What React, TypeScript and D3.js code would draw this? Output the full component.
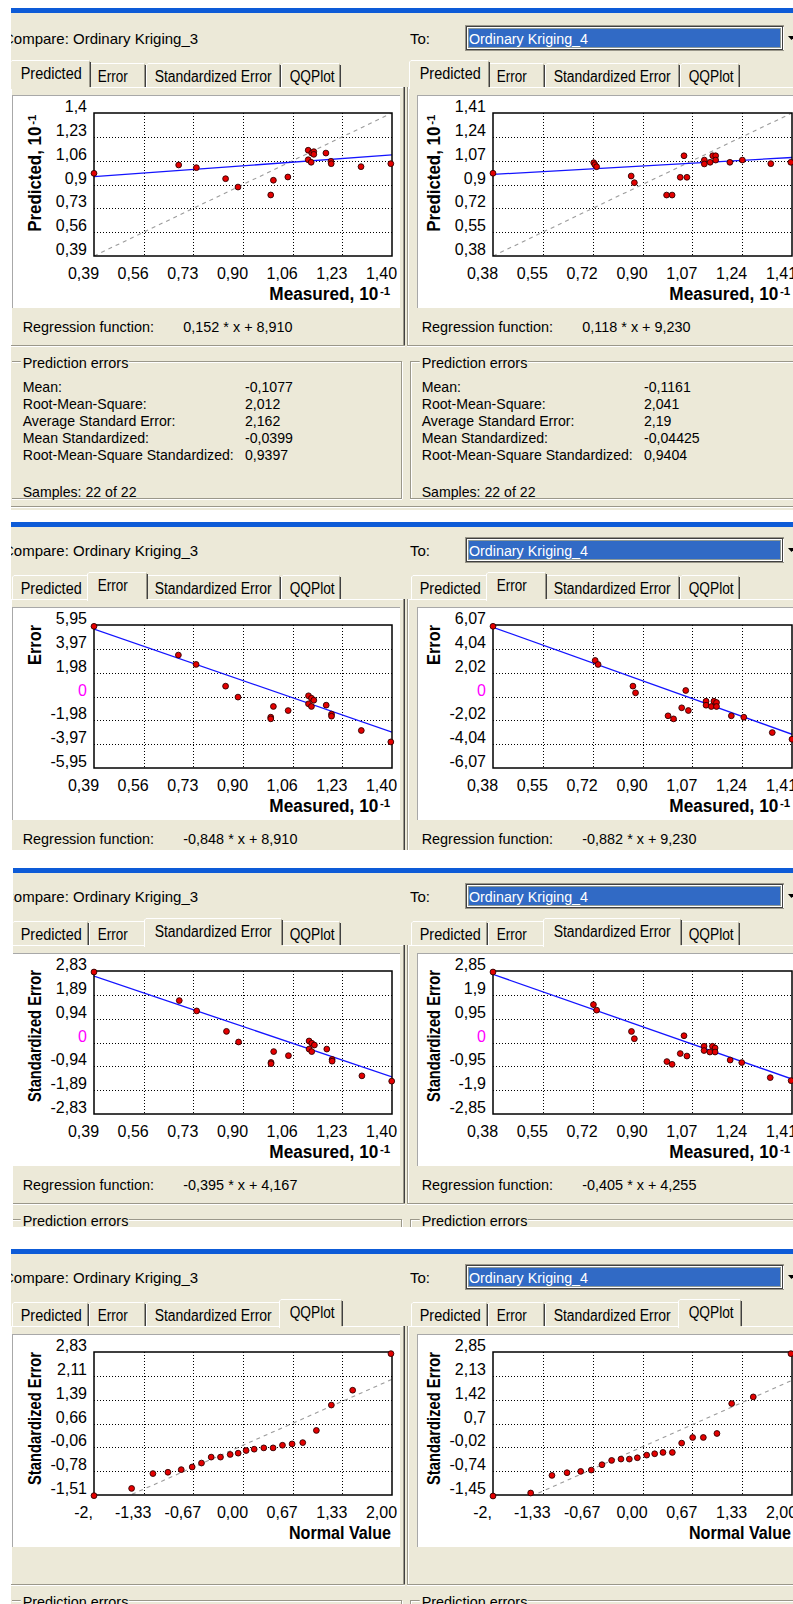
import React from "react";
import * as d3 from "d3";

// ------------------------------------------------------------------ data
const tabLabels = ["Predicted", "Error", "Standardized Error", "QQPlot"];
const compareText = "Compare:  Ordinary Kriging_3";
const toLabel = "To:";
const toModel = "Ordinary Kriging_4";

const measured3Ticks = ["0,39", "0,56", "0,73", "0,90", "1,06", "1,23", "1,40"];
const measured4Ticks = ["0,38", "0,55", "0,72", "0,90", "1,07", "1,24", "1,41"];
const normalTicks = ["-2,", "-1,33", "-0,67", "0,00", "0,67", "1,33", "2,00"];

const predicted3Ticks = ["1,4", "1,23", "1,06", "0,9", "0,73", "0,56", "0,39"];
const predicted4Ticks = ["1,41", "1,24", "1,07", "0,9", "0,72", "0,55", "0,38"];
const error3Ticks = ["5,95", "3,97", "1,98", "0", "-1,98", "-3,97", "-5,95"];
const error4Ticks = ["6,07", "4,04", "2,02", "0", "-2,02", "-4,04", "-6,07"];
const stdError3Ticks = ["2,83", "1,89", "0,94", "0", "-0,94", "-1,89", "-2,83"];
const stdError4Ticks = ["2,85", "1,9", "0,95", "0", "-0,95", "-1,9", "-2,85"];
const qq3Ticks = ["2,83", "2,11", "1,39", "0,66", "-0,06", "-0,78", "-1,51"];
const qq4Ticks = ["2,85", "2,13", "1,42", "0,7", "-0,02", "-0,74", "-1,45"];

// Predicted tab (values in units of 10)
const pred3X = [0.39, 0.677, 0.737, 0.836, 0.878, 0.989, 0.998, 1.047, 1.116, 1.116, 1.126, 1.128, 1.135, 1.135, 1.176, 1.193, 1.194, 1.295, 1.396];
const pred3Y = [0.974, 1.033, 1.014, 0.936, 0.877, 0.821, 0.925, 0.948, 1.137, 1.07, 1.052, 1.117, 1.127, 1.108, 1.117, 1.059, 1.042, 1.021, 1.042];
const pred4X = [0.38, 0.727, 0.731, 0.737, 0.856, 0.867, 0.978, 0.997, 1.025, 1.038, 1.048, 1.108, 1.108, 1.128, 1.137, 1.147, 1.147, 1.196, 1.239, 1.337, 1.406];
const pred4Y = [0.976, 1.052, 1.038, 1.023, 0.956, 0.908, 0.819, 0.819, 0.947, 1.102, 0.947, 1.071, 1.043, 1.055, 1.102, 1.102, 1.071, 1.055, 1.071, 1.045, 1.055];

// Error tab
const err3X = [0.39, 0.676, 0.736, 0.836, 0.878, 0.989, 0.989, 0.998, 1.048, 1.117, 1.117, 1.127, 1.127, 1.135, 1.177, 1.195, 1.195, 1.296, 1.396];
const err3Y = [5.84, 3.45, 2.67, 0.86, -0.05, -1.72, -1.86, -0.83, -1.17, 0.06, -0.61, -0.14, -0.83, -0.31, -0.72, -1.47, -1.64, -2.83, -3.78];
const err4X = [0.38, 0.732, 0.742, 0.862, 0.871, 0.983, 1.002, 1.03, 1.044, 1.053, 1.114, 1.114, 1.132, 1.141, 1.15, 1.15, 1.201, 1.244, 1.342, 1.41];
const err4Y = [5.96, 3.06, 2.72, 0.88, 0.31, -1.64, -1.9, -0.96, 0.51, -1.19, -0.4, -0.74, -0.85, -0.4, -0.51, -0.85, -1.64, -1.76, -3.06, -3.63];

// Standardized Error tab
const std3X = [0.39, 0.679, 0.738, 0.839, 0.88, 0.99, 0.99, 0.999, 1.049, 1.119, 1.119, 1.128, 1.128, 1.137, 1.179, 1.197, 1.197, 1.298, 1.399];
const std3Y = [2.79, 1.66, 1.25, 0.44, 0.02, -0.79, -0.84, -0.36, -0.52, 0.06, -0.26, -0.03, -0.36, -0.1, -0.26, -0.67, -0.74, -1.32, -1.53];
const std4X = [0.38, 0.726, 0.737, 0.857, 0.867, 0.979, 0.997, 1.025, 1.038, 1.048, 1.107, 1.107, 1.127, 1.136, 1.145, 1.145, 1.197, 1.237, 1.335, 1.407];
const std4Y = [2.81, 1.51, 1.29, 0.44, 0.15, -0.76, -0.87, -0.44, 0.27, -0.54, -0.15, -0.32, -0.38, -0.15, -0.22, -0.38, -0.7, -0.8, -1.4, -1.52];

// QQPlot tab
const qq3X = [-2.0, -1.495, -1.209, -1.008, -0.829, -0.682, -0.557, -0.427, -0.302, -0.172, -0.065, 0.042, 0.15, 0.279, 0.404, 0.53, 0.659, 0.802, 0.985, 1.186, 1.472, 1.986];
const qq3Y = [-1.53, -1.31, -0.86, -0.82, -0.74, -0.66, -0.54, -0.36, -0.36, -0.28, -0.24, -0.16, -0.12, -0.08, -0.08, 0.0, 0.04, 0.08, 0.45, 1.22, 1.67, 2.78];
const qq4X = [-2.0, -1.496, -1.211, -1.01, -0.827, -0.685, -0.542, -0.413, -0.288, -0.176, -0.069, 0.056, 0.163, 0.274, 0.399, 0.524, 0.671, 0.814, 0.996, 1.193, 1.482, 1.986];
const qq4Y = [-1.48, -1.39, -0.86, -0.78, -0.74, -0.7, -0.54, -0.41, -0.37, -0.37, -0.33, -0.25, -0.21, -0.17, -0.17, 0.11, 0.28, 0.28, 0.4, 1.3, 1.5, 2.8];
const qqReference = [-1.49, 2.0];

// regression [slope, intercept]
const pred3Reg = [0.152, 8.91];
const pred4Reg = [0.118, 9.23];
const err3Reg = [-0.848, 8.91];
const err4Reg = [-0.882, 9.23];
const std3Reg = [-0.395, 4.167];
const std4Reg = [-0.405, 4.255];

const statLabels = ["Mean:", "Root-Mean-Square:", "Average Standard Error:", "Mean Standardized:", "Root-Mean-Square Standardized:"];
const stats3 = ["-0,1077", "2,012", "2,162", "-0,0399", "0,9397"];
const stats4 = ["-0,1161", "2,041", "2,19", "-0,04425", "0,9404"];
const sampleCounts = [22, 22];

// ------------------------------------------------------------------ layout
const FONT = "'Liberation Sans', Arial, Helvetica, sans-serif";
const BEIGE = "#ECE9D8";
const SHADOW = "#9a978a";
const DARK = "#404040";
const BAR_TOP = [8, 522, 868, 1249];
const ORIGIN = [10, 522, 868, 1249];
const BLOCK_END = [510, 850, 1227, 1604];
const BLOCK_LEFT = [11, 11, 13, 11];
const TAB_EDGES = [12, 89, 146, 281, 341];
const TAB_W = [61, 30, 117, 45];

const num = (s: string) => parseFloat(s.replace(",", "."));
const fmt = (v: number) => v.toFixed(3).replace(".", ",");

function Txt(props: any) {
  const { x, y, s = 14, w, sx, a = "start", b = false, fill = "#000", children } = props;
  const extra: any = w ? { textLength: w, lengthAdjust: "spacingAndGlyphs" } : {};
  if (sx) {
    return (
      <text transform={`translate(${x},${y}) scale(${sx},1)`} x={0} y={0} fontSize={s} fontFamily={FONT} fontWeight={b ? "bold" : "normal"} textAnchor={a} fill={fill}>
        {children}
      </text>
    );
  }
  return (
    <text x={x} y={y} fontSize={s} fontFamily={FONT} fontWeight={b ? "bold" : "normal"} textAnchor={a} fill={fill} {...extra}>
      {children}
    </text>
  );
}

type Spec = {
  xTicks: string[]; yTicks: string[]; xs: number[]; ys: number[];
  reg: number[] | null; yMult: number; diag: number[] | null;
  xTitle: string; xTitleW: number; xSup: boolean;
  yTitle: string; yTitleW: number; ySup: boolean; yEnd: number;
};

function Plot({ s, left, right, top, cid }: { s: Spec; left: number; right: number; top: number; cid: string }) {
  const bottom = top + 143;
  const xDom = [num(s.xTicks[0]), num(s.xTicks[s.xTicks.length - 1])];
  const yDom = [num(s.yTicks[s.yTicks.length - 1]), num(s.yTicks[0])];
  const x = d3.scaleLinear().domain(xDom).range([left, right]);
  const y = d3.scaleLinear().domain(yDom).range([bottom, top]);
  const xp = d3.scalePoint<string>().domain(s.xTicks).range([left, right]);
  const yp = d3.scalePoint<string>().domain(s.yTicks).range([top, bottom]);
  const line = d3.line<number[]>().x((d) => x(d[0])).y((d) => y(d[1]));
  const reg = s.reg;
  const regPath = reg ? line(xDom.map((v) => [v, (reg[0] * v * 10 + reg[1]) / s.yMult])) : null;
  const diagPath = s.diag ? line(s.diag.map((v) => [v, v])) : null;
  const px = (v: number) => Math.round(v) + 0.5;
  const yl = left - 53;
  return (
    <g>
      <clipPath id={cid}>
        <rect x={left} y={top} width={right - left} height={bottom - top} />
      </clipPath>
      {s.xTicks.slice(1, -1).map((t) => (
        <line key={"gx" + t} x1={px(xp(t)!)} x2={px(xp(t)!)} y1={top} y2={bottom} stroke="#000" strokeDasharray="1,2" />
      ))}
      {s.yTicks.slice(1, -1).map((t) => (
        <line key={"gy" + t} x1={left} x2={right} y1={px(yp(t)!)} y2={px(yp(t)!)} stroke="#000" strokeDasharray="1,2" />
      ))}
      <g clipPath={`url(#${cid})`}>
        {diagPath && <path d={diagPath} stroke="#9c9c9c" strokeWidth={1.1} strokeDasharray="4,4" fill="none" />}
        {regPath && <path d={regPath} stroke="#1414ff" strokeWidth={1.3} fill="none" />}
      </g>
      <rect x={left} y={top} width={right - left} height={bottom - top} fill="none" stroke="#000" strokeWidth={1.5} />
      {s.xs.map((v, i) => (
        <circle key={"p" + i} cx={x(v)} cy={y(s.ys[i])} r={2.9} fill="#e40000" stroke="#300000" strokeWidth={0.9} />
      ))}
      {s.yTicks.map((t) => (
        <Txt key={"yl" + t} x={left - 7} y={yp(t)! - 1} s={16} a="end" fill={t === "0" ? "#ff00ff" : "#000"}>
          {t}
        </Txt>
      ))}
      {s.xTicks.map((t) => (
        <Txt key={"xl" + t} x={xp(t)! - 10.5} y={bottom + 22.5} s={16} a="middle">
          {t}
        </Txt>
      ))}
      {s.xSup ? (
        <g>
          <Txt x={right - 122.7} y={bottom + 44} s={17.5} b w={109}>{s.xTitle}</Txt>
          <Txt x={right - 12} y={bottom + 39} s={11.5} b>-1</Txt>
        </g>
      ) : (
        <Txt x={right - 1 - s.xTitleW} y={bottom + 44} s={17.5} b w={s.xTitleW}>{s.xTitle}</Txt>
      )}
      <g transform={`translate(${yl},${top}) rotate(-90)`}>
        <Txt x={s.yEnd - s.yTitleW} y={0} s={17.5} b w={s.yTitleW}>{s.yTitle}</Txt>
        {s.ySup && <Txt x={-11.8} y={-5} s={11.5} b>-1</Txt>}
      </g>
    </g>
  );
}

function Side({ bi, side, spec, active }: { bi: number; side: number; spec: Spec; active: number }) {
  const L = ORIGIN[bi];
  const end = BLOCK_END[bi];
  const dx = side === 0 ? 0 : 399;
  const plotL = side === 0 ? 94 : 493;
  const plotR = side === 0 ? 392 : 792;
  const pageL = side === 0 ? 11 : 407;
  const pageR = side === 0 ? 405 : 830;
  const panelL = side === 0 ? 12 : 417;
  const panelR = side === 0 ? 400 : 830;
  const edges = TAB_EDGES.map((e) => e + dx);
  const tabTop = L + 77;
  const pageBot = L + 336;

  const tab = (i: number) => {
    const isA = i === active;
    let x0 = edges[i];
    let x1 = edges[i + 1];
    const t = isA ? L + 50 : L + 53;
    if (isA) {
      x0 -= 2;
      x1 += 2;
    }
    const bot = isA ? tabTop + 2 : tabTop;
    return (
      <g key={"tab" + i}>
        <path d={`M${x0},${bot}V${t + 2}L${x0 + 2},${t}H${x1 - 2}L${x1},${t + 2}V${bot}Z`} fill={BEIGE} />
        <path d={`M${x0 + 0.5},${bot}V${t + 2}L${x0 + 2},${t + 0.5}H${x1 - 2}`} stroke="#fff" fill="none" />
        <path d={`M${x1 - 1.5},${t + 1.5}V${tabTop}`} stroke={SHADOW} fill="none" />
        <path d={`M${x1 - 0.5},${t + 2}V${tabTop}`} stroke={DARK} fill="none" />
        <Txt x={edges[i] + 8.7} y={isA ? L + 69 : L + 72} s={16} w={TAB_W[i]}>
          {tabLabels[i]}
        </Txt>
      </g>
    );
  };

  const gx0 = side === 0 ? 12 : 410;
  const gx1 = side === 0 ? 402 : 830;
  const gTop = L + 352;
  const gBot = L + 489;
  const titleX = 22.7 + dx;
  const stats = side === 0 ? stats3 : stats4;
  const showGroup = gTop < end;
  const statY = (i: number) => L + 381.7 + i * 17.1;
  const SX = 0.93;

  return (
    <g>
      {/* header */}
      {side === 0 ? (
        <Txt x={3} y={L + 34.3} s={15}>{compareText}</Txt>
      ) : (
        <g>
          <Txt x={410} y={L + 34.3} s={15}>{toLabel}</Txt>
          <rect x={465.5} y={L + 15.5} width={318} height={25} fill="#fff" stroke={SHADOW} />
          <rect x={466.5} y={L + 16.5} width={316} height={23} fill="#fff" stroke={DARK} />
          <rect x={468} y={L + 18} width={313} height={20} fill="#316AC5" />
          <rect x={468.5} y={L + 18.5} width={312} height={19} fill="none" stroke="#e8c86a" strokeDasharray="1,1" />
          <Txt x={469} y={L + 33.5} s={15.5} w={119} fill="#fff">{toModel}</Txt>
          <rect x={783} y={L + 17} width={20} height={23} fill={BEIGE} />
          <line x1={783.5} x2={783.5} y1={L + 17} y2={L + 40} stroke="#fff" />
          <path d={`M788,${L + 26}h7l-3.5,4z`} fill="#000" />
        </g>
      )}

      {/* tab page */}
      <rect x={pageL} y={tabTop} width={pageR - pageL} height={pageBot - tabTop} fill={BEIGE} />
      <line x1={pageL} x2={pageR} y1={tabTop + 0.5} y2={tabTop + 0.5} stroke="#fff" />
      {side === 1 && <line x1={pageL + 0.5} x2={pageL + 0.5} y1={tabTop} y2={pageBot} stroke={SHADOW} />}
      <line x1={pageL + (side === 1 ? 1.5 : 0.5)} x2={pageL + (side === 1 ? 1.5 : 0.5)} y1={tabTop} y2={pageBot} stroke="#fff" />
      {side === 0 && (
        <g>
          <line x1={pageR - 1.5} x2={pageR - 1.5} y1={tabTop} y2={pageBot} stroke={SHADOW} />
          <line x1={pageR - 0.5} x2={pageR - 0.5} y1={tabTop} y2={pageBot} stroke={DARK} />
        </g>
      )}
      <line x1={pageL} x2={pageR} y1={pageBot - 0.5} y2={pageBot - 0.5} stroke={SHADOW} />
      <line x1={pageL} x2={pageR} y1={pageBot + 0.5} y2={pageBot + 0.5} stroke="#fff" />

      {[0, 1, 2, 3].filter((i) => i !== active).map(tab)}
      {tab(active)}

      {/* chart panel */}
      <rect x={panelL} y={L + 85} width={panelR - panelL} height={213} fill="#fff" />
      <line x1={panelL} x2={panelR} y1={L + 85.5} y2={L + 85.5} stroke="#a8a8a8" />
      <line x1={panelL + 0.5} x2={panelL + 0.5} y1={L + 85} y2={L + 298} stroke="#a8a8a8" />

      <Plot s={spec} left={plotL} right={plotR} top={L + 103} cid={`clip-${bi}-${side}`} />

      {spec.reg && (
        <g>
          <Txt x={22.7 + dx} y={L + 321.5} s={15.5} sx={SX}>Regression function:</Txt>
          <Txt x={183.3 + dx} y={L + 321.5} s={15.5} sx={SX}>{`${fmt(spec.reg[0])} * x + ${fmt(spec.reg[1])}`}</Txt>
        </g>
      )}

      {/* prediction errors group */}
      {showGroup && (
        <g>
          <line x1={gx0} x2={titleX - 2} y1={gTop - 0.5} y2={gTop - 0.5} stroke={SHADOW} />
          <line x1={gx0} x2={titleX - 2} y1={gTop + 0.5} y2={gTop + 0.5} stroke="#fff" />
          <line x1={titleX + 106} x2={gx1} y1={gTop - 0.5} y2={gTop - 0.5} stroke={SHADOW} />
          <line x1={titleX + 106} x2={gx1} y1={gTop + 0.5} y2={gTop + 0.5} stroke="#fff" />
          {side === 0 ? (
            <g>
              <line x1={gx1 - 0.5} x2={gx1 - 0.5} y1={gTop} y2={gBot} stroke={SHADOW} />
              <line x1={gx1 + 0.5} x2={gx1 + 0.5} y1={gTop} y2={gBot} stroke="#fff" />
            </g>
          ) : (
            <g>
              <line x1={gx0 + 0.5} x2={gx0 + 0.5} y1={gTop} y2={gBot} stroke={SHADOW} />
              <line x1={gx0 + 1.5} x2={gx0 + 1.5} y1={gTop} y2={gBot} stroke="#fff" />
            </g>
          )}
          <line x1={gx0} x2={gx1} y1={gBot - 0.5} y2={gBot - 0.5} stroke={SHADOW} />
          <line x1={gx0} x2={gx1} y1={gBot + 0.5} y2={gBot + 0.5} stroke="#fff" />
          <Txt x={titleX} y={L + 357.5} s={15.5} sx={SX}>Prediction errors</Txt>
        </g>
      )}
      {statLabels.map((lab, i) =>
        statY(i) - 12 < end ? (
          <g key={"st" + i}>
            <Txt x={22.7 + dx} y={statY(i)} s={15.2} sx={SX}>{lab}</Txt>
            <Txt x={245 + dx} y={statY(i)} s={15.2} sx={SX}>{stats[i]}</Txt>
          </g>
        ) : null
      )}
      {L + 487 - 12 < end && (
        <Txt x={22.7 + dx} y={L + 487} s={15.2} sx={SX}>{`Samples: ${sampleCounts[side]} of ${sampleCounts[side]}`}</Txt>
      )}
    </g>
  );
}

export default function App() {
  const measDiag3 = [num(measured3Ticks[0]), num(measured3Ticks[6])];
  const measDiag4 = [num(measured4Ticks[0]), num(measured4Ticks[6])];
  const base = { xTitle: "Measured, 10", xTitleW: 109, xSup: true };
  const specs: Spec[][] = [
    [
      { ...base, xTicks: measured3Ticks, yTicks: predicted3Ticks, xs: pred3X, ys: pred3Y, reg: pred3Reg, yMult: 10, diag: measDiag3, yTitle: "Predicted, 10", yTitleW: 105, ySup: true, yEnd: -13.7 },
      { ...base, xTicks: measured4Ticks, yTicks: predicted4Ticks, xs: pred4X, ys: pred4Y, reg: pred4Reg, yMult: 10, diag: measDiag4, yTitle: "Predicted, 10", yTitleW: 105, ySup: true, yEnd: -13.7 },
    ],
    [
      { ...base, xTicks: measured3Ticks, yTicks: error3Ticks, xs: err3X, ys: err3Y, reg: err3Reg, yMult: 1, diag: null, yTitle: "Error", yTitleW: 40, ySup: false, yEnd: 0 },
      { ...base, xTicks: measured4Ticks, yTicks: error4Ticks, xs: err4X, ys: err4Y, reg: err4Reg, yMult: 1, diag: null, yTitle: "Error", yTitleW: 40, ySup: false, yEnd: 0 },
    ],
    [
      { ...base, xTicks: measured3Ticks, yTicks: stdError3Ticks, xs: std3X, ys: std3Y, reg: std3Reg, yMult: 1, diag: null, yTitle: "Standardized Error", yTitleW: 132, ySup: false, yEnd: 1 },
      { ...base, xTicks: measured4Ticks, yTicks: stdError4Ticks, xs: std4X, ys: std4Y, reg: std4Reg, yMult: 1, diag: null, yTitle: "Standardized Error", yTitleW: 132, ySup: false, yEnd: 1 },
    ],
    [
      { xTitle: "Normal Value", xTitleW: 102, xSup: false, xTicks: normalTicks, yTicks: qq3Ticks, xs: qq3X, ys: qq3Y, reg: null, yMult: 1, diag: qqReference, yTitle: "Standardized Error", yTitleW: 133, ySup: false, yEnd: 0 },
      { xTitle: "Normal Value", xTitleW: 102, xSup: false, xTicks: normalTicks, yTicks: qq4Ticks, xs: qq4X, ys: qq4Y, reg: null, yMult: 1, diag: qqReference, yTitle: "Standardized Error", yTitleW: 133, ySup: false, yEnd: 0 },
    ],
  ];

  return (
    <svg width={793} height={1604} style={{ position: "absolute", left: 0, top: 0, display: "block" }} xmlns="http://www.w3.org/2000/svg">
      <rect x={0} y={0} width={793} height={1604} fill="#fff" />
      {specs.map((pair, bi) => (
        <g key={"blk" + bi}>
          <clipPath id={"blk" + bi}>
            <rect x={BLOCK_LEFT[bi]} y={BAR_TOP[bi]} width={793 - BLOCK_LEFT[bi]} height={BLOCK_END[bi] - BAR_TOP[bi]} />
          </clipPath>
          <g clipPath={`url(#blk${bi})`}>
            <rect x={0} y={BAR_TOP[bi]} width={793} height={BLOCK_END[bi] - BAR_TOP[bi]} fill={BEIGE} />
            <rect x={0} y={BAR_TOP[bi]} width={793} height={5} fill="#0d5bd7" />
            <Side bi={bi} side={0} spec={pair[0]} active={bi} />
            <Side bi={bi} side={1} spec={pair[1]} active={bi} />
            {ORIGIN[bi] + 496 < BLOCK_END[bi] && (
              <g>
                <line x1={0} x2={793} y1={ORIGIN[bi] + 496.5} y2={ORIGIN[bi] + 496.5} stroke={SHADOW} />
                <line x1={0} x2={793} y1={ORIGIN[bi] + 497.5} y2={ORIGIN[bi] + 497.5} stroke="#fff" />
              </g>
            )}
          </g>
        </g>
      ))}
    </svg>
  );
}
